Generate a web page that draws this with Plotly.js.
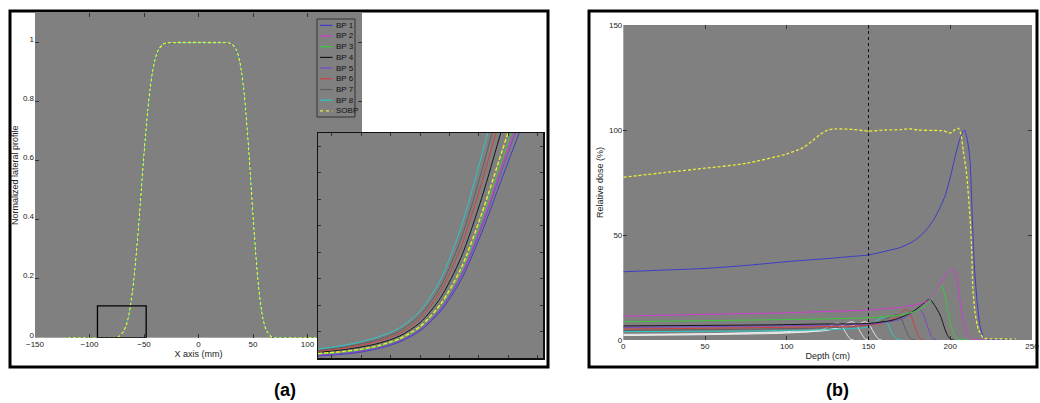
<!DOCTYPE html>
<html><head><meta charset="utf-8">
<script src="https://cdn.plot.ly/plotly-3.0.1.min.js"></script>
<style>html,body{margin:0;padding:0;background:#fff}#chart{width:1040px;height:403px}</style>
</head><body><div id="chart"></div>
<script>
// ---------- Panel (a): lateral profile ----------
const seriesNames = ['BP 1','BP 2','BP 3','BP 4','BP 5','BP 6','BP 7','BP 8','SOBP'];
const seriesColors = ['#3c3cc8','#d23cd2','#3cc83c','#161616','#7a48c8','#d04040','#5e5e5e','#2ac8c8','#ecec3a'];

const profileX = [-120,-80,-76.5,-72.5,-68.5,-66.5,-64.5,-62.5,-60.5,-58.5,-56.5,-54.5,-52.5,-50.5,-48.5,-46.5,-44.5,-42.5,-40.5,-38.5,-36.5,-32.5,-28.5,-20,0,20,27.5,31,34.5,36.25,38,39.75,41.5,43.25,45,46.75,48.5,50.25,52,53.75,55.5,57.25,59,60.75,62.5,66,69.5,74,108];
const profileY = [0,0,0.001,0.006,0.023,0.04,0.067,0.106,0.159,0.227,0.31,0.40,0.5,0.6,0.69,0.773,0.841,0.894,0.933,0.96,0.977,0.994,0.999,1,1,1,0.999,0.994,0.977,0.96,0.933,0.894,0.841,0.773,0.69,0.6,0.5,0.4,0.31,0.227,0.159,0.106,0.067,0.04,0.023,0.006,0.001,0,0];

// zoomed region marked on the main plot
const zoomBoxX = [-92.7, -48];
const zoomBoxY = [0, 0.108];

// inset (enlarged toe of the penumbra)
const insetRangeX = [-82, -60];
const insetRangeY = [0, 0.1];
const insetX = [-82,-80,-78,-76,-74,-72,-70,-68,-66,-64,-62];
const insetBP1 = [0.0009,0.0015,0.0025,0.0043,0.0072,0.0122,0.0209,0.0348,0.0557,0.0800,0.104];
const insetBP2 = [0.0014,0.0020,0.0031,0.0048,0.0078,0.0130,0.0223,0.0372,0.0595,0.0856,0.112];
const insetBP3 = [0.0017,0.0023,0.0034,0.0051,0.0081,0.0134,0.0230,0.0384,0.0614,0.0883,0.115];
const insetBP4 = [0.0025,0.0034,0.0047,0.0066,0.0098,0.0158,0.0269,0.0448,0.0710,0.1020,0.132];
const insetBP5 = [0.0012,0.0018,0.0029,0.0046,0.0076,0.0127,0.0218,0.0364,0.0582,0.0837,0.109];
const insetBP6 = [0.0030,0.0040,0.0055,0.0076,0.0110,0.0176,0.0298,0.0496,0.0780,0.1100,0.142];
const insetBP7 = [0.0034,0.0045,0.0061,0.0084,0.0120,0.0190,0.0319,0.0532,0.0830,0.1170,0.150];
const insetBP8 = [0.0040,0.0052,0.0070,0.0095,0.0135,0.0210,0.0350,0.0584,0.0900,0.1250,0.160];
const insetSOBP = [0.0020,0.0027,0.0038,0.0056,0.0087,0.0141,0.0240,0.0400,0.0640,0.0920,0.120];
const insetSeries = [insetBP1,insetBP2,insetBP3,insetBP4,insetBP5,insetBP6,insetBP7,insetBP8,insetSOBP];

// ---------- Panel (b): depth dose ----------
const depthBP1 = [0,25,50,75,100,125,140,150,160,170,177,182,186,190,194,197,200,202,204,206,207.5,208.7,210.5,211.5,212.2,213.2,214.2,215.2,216.7,218.3,220.3,222,225,240];
const doseBP1  = [32.5,33.3,34.1,35.5,37.3,38.8,39.8,40.5,42.2,44.2,46.8,49.8,53,57.5,63.5,69,77.5,84,90.5,96,98.8,100,95,90,84,65,44,30,16,6.3,1.6,0.6,0.2,0.1];
const depthBP2 = [0,50,100,150,170,180,186,190,194,198,200,201.6,203,204,205,206,207,208,209,210,211,212.5,214,225];
const doseBP2  = [11.4,12.2,13.0,14.3,15.6,17.0,18.6,21.5,27,31.7,33.2,33.8,33,30,25,18.5,13,9,6,3.5,1.8,0.5,0.1,0];
const depthBP3 = [0,60,120,150,170,180,186,190,192.5,194.8,196.5,198,200,201.5,203,205,215];
const doseBP3  = [8.7,9.3,10.0,10.6,12.0,14.0,17.0,21.5,24,26,22,16,8,4,1.6,0.3,0];
const depthBP4 = [0,90,120,150,165,172,178,183,187.3,190,193.8,196.9,198.5,200,202];
const doseBP4  = [6.7,7.2,7.6,7.9,9.5,11.5,14,17,19.4,17,11.9,4.8,2,0.5,0];
const depthBP5 = [0,100,150,165,170,175,178,180.6,183,185,187,188.5,190,192];
const doseBP5  = [6.0,6.8,7.6,9,10,12,14,15.1,13,9,4.5,1.8,0.4,0];
const depthBP6 = [0,120,150,160,167,170.5,173,175,177,179,180.5,182,184];
const doseBP6  = [5.2,6.3,7.0,8.5,11,13.5,14.6,13.5,9.5,5,2,0.5,0];
const depthBP7 = [0,100,140,155,162,167.3,169.5,171.5,173.5,175.5,177,179];
const doseBP7  = [4.6,5.4,6.3,8,10.5,12.2,11,7.5,3.5,1,0.2,0];
const depthBP8 = [0,120,150,154,158,160.5,162.5,164.5,166.5,168,170];
const doseBP8  = [4.0,4.8,6.3,8.5,10.6,9.5,6.5,3,1,0.2,0];
const depthW1 = [0,50,100,125,140,145,148,150.5,152.5,154.5,156,158];
const doseW1  = [2.7,3.0,4.0,5.0,6.8,8.0,8.7,7.5,4.5,2,0.5,0];
const depthW2 = [0,100,125,133,137,140,142.5,144.5,146.5,148,150];
const doseW2  = [2.4,3.6,4.6,6.5,8,8.7,7.5,4.5,2,0.5,0];
const depthW3 = [0,100,120,126,129,131,133.5,135.5,137.5,139,141];
const doseW3  = [2.1,3.3,4.5,6.5,7.7,8,7,4.2,1.8,0.4,0];
const depthSOBP = [0,25,50,75,100,110,115,120,125,130,140,150,160,170,175,180,190,196,199,201,203,205,206.5,208,210,212.2,213.2,213.8,215.2,217.3,220.4,225,230,235,240];
const doseSOBP  = [77.5,79.7,81.8,84.1,88.6,91.6,94.4,97.6,100,100.5,100.3,99.5,100,100.2,100.6,100,99.8,99.6,98.6,98.8,100.3,100.8,98,90,79,57,41,25,12.7,4.8,1,0.5,0.6,0.4,0.5];
const markerDepth = 150;
const whiteColor = '#ececec';

const FONT = 'Liberation Sans, Arial, sans-serif';
const traces = [];

// main lateral profile (all beamlets coincide at this scale)
seriesNames.forEach((n,i) => {
  traces.push({x: profileX, y: profileY, xaxis:'x', yaxis:'y', type:'scatter', mode:'lines', name:n,
    line:{color: seriesColors[i], width: i===8 ? 1.3 : 1, dash: i===8 ? '3px,2px' : 'solid', shape:'spline', smoothing:0.6}});
});
// inset
insetSeries.forEach((arr,i) => {
  traces.push({x: insetX, y: arr, xaxis:'x3', yaxis:'y3', type:'scatter', mode:'lines', name:seriesNames[i],
    line:{color: seriesColors[i], width: i===8 ? 1.4 : 1, dash: i===8 ? '4px,2px' : 'solid', shape:'spline', smoothing:0.8}});
});
// depth dose curves
const ddSeries = [
  [depthW3, doseW3, whiteColor], [depthW2, doseW2, whiteColor], [depthW1, doseW1, whiteColor],
  [depthBP8, doseBP8, seriesColors[7]], [depthBP7, doseBP7, seriesColors[6]], [depthBP6, doseBP6, seriesColors[5]],
  [depthBP5, doseBP5, seriesColors[4]], [depthBP4, doseBP4, seriesColors[3]], [depthBP3, doseBP3, seriesColors[2]],
  [depthBP2, doseBP2, seriesColors[1]], [depthBP1, doseBP1, seriesColors[0]]
];
ddSeries.forEach(s => {
  traces.push({x: s[0], y: s[1], xaxis:'x2', yaxis:'y2', type:'scatter', mode:'lines',
    line:{color: s[2], width:1, shape:'spline', smoothing:0.7}});
});
traces.push({x: depthSOBP, y: doseSOBP, xaxis:'x2', yaxis:'y2', type:'scatter', mode:'lines',
  line:{color: seriesColors[8], width:1.3, dash:'3px,2px', shape:'spline', smoothing:0.6}});

const tickFont = {family: FONT, size: 8, color: '#222'};
const baseAxis = {ticks:'inside', ticklen:4, tickwidth:1, tickcolor:'#333', mirror:'ticks',
  showgrid:false, zeroline:false, showline:false, tickfont: tickFont, automargin:false, fixedrange:true};

const W = 1040, H = 403;
const px = v => v / W, py = v => 1 - v / H;

// legend (drawn as paper shapes + annotations, MATLAB style)
const legBox = {x0: 317, x1: 355, y0: 19, y1: 117};
const legFirst = 25.3, legStep = 10.7;
const shapes = [
  {type:'rect', xref:'paper', yref:'paper', x0:px(10), x1:px(548), y0:py(367), y1:py(11), line:{color:'#000', width:3}, layer:'above'},
  {type:'rect', xref:'paper', yref:'paper', x0:px(589), x1:px(1037), y0:py(367), y1:py(11), line:{color:'#000', width:3}, layer:'above'},
  {type:'rect', xref:'x', yref:'y', x0:zoomBoxX[0], x1:zoomBoxX[1], y0:zoomBoxY[0], y1:zoomBoxY[1], line:{color:'#000', width:1.3}, layer:'above'},
  {type:'rect', xref:'x3', yref:'y3', x0:insetRangeX[0], x1:insetRangeX[1], y0:insetRangeY[0], y1:insetRangeY[1], fillcolor:'#808080', line:{width:0}, layer:'below'},
  {type:'line', xref:'x2', yref:'y2', x0:markerDepth, x1:markerDepth, y0:0, y1:150, line:{color:'#111', width:1, dash:'dot'}, layer:'above'},
  {type:'rect', xref:'paper', yref:'paper', x0:px(legBox.x0), x1:px(legBox.x1), y0:py(legBox.y1), y1:py(legBox.y0), fillcolor:'#808080', line:{color:'#333', width:1}, layer:'above'}
];
const annotations = [];
seriesNames.forEach((n,i) => {
  const yc = legFirst + i*legStep;
  shapes.push({type:'line', xref:'paper', yref:'paper', x0:px(320), x1:px(332.5), y0:py(yc), y1:py(yc),
    line:{color: seriesColors[i], width: 1.2, dash: i===8 ? 'dot' : 'solid'}, layer:'above'});
  annotations.push({xref:'paper', yref:'paper', x:px(334), y:py(yc), xanchor:'left', yanchor:'middle', showarrow:false,
    text:n, font:{family:'Liberation Sans Narrow, Liberation Sans, Arial, sans-serif', size:8, color:'#111'}});
});
annotations.push({xref:'paper', yref:'paper', x:px(285), y:py(390), xanchor:'center', yanchor:'middle', showarrow:false,
  text:'<b>(a)</b>', font:{family: FONT, size:18, color:'#000'}});
annotations.push({xref:'paper', yref:'paper', x:px(837), y:py(390), xanchor:'center', yanchor:'middle', showarrow:false,
  text:'<b>(b)</b>', font:{family: FONT, size:18, color:'#000'}});

const layout = {
  width: W, height: H,
  margin: {l:0, r:0, t:0, b:0, pad:0},
  paper_bgcolor: '#ffffff',
  plot_bgcolor: '#808080',
  showlegend: false,
  xaxis: Object.assign({}, baseAxis, {domain:[px(35), px(362)], range:[-150,150], anchor:'y',
    tickvals:[-150,-100,-50,0,50,100],
    title:{text:'X axis (mm)', font:{family:FONT, size:9, color:'#222'}, standoff:2}}),
  yaxis: Object.assign({}, baseAxis, {domain:[py(337.7), py(13)], range:[0,1.1], anchor:'x',
    tickvals:[0,0.2,0.4,0.6,0.8,1], ticklabelshift:-3,
    title:{text:'Normalized lateral profile', font:{family:FONT, size:9, color:'#222'}, standoff:2}}),
  xaxis2: Object.assign({}, baseAxis, {domain:[px(623.3), px(1032)], range:[0,250], anchor:'y2', dtick:50,
    title:{text:'Depth (cm)', font:{family:FONT, size:9, color:'#222'}, standoff:2}}),
  yaxis2: Object.assign({}, baseAxis, {domain:[py(340), py(25)], range:[0,150], anchor:'x2', dtick:50,
    title:{text:'Relative dose (%)', font:{family:FONT, size:9, color:'#222'}, standoff:3}}),
  xaxis3: Object.assign({}, baseAxis, {domain:[px(318), px(543)], range:insetRangeX, anchor:'y3',
    showticklabels:false, tick0:-80.66, dtick:2.88, showline:true, linecolor:'#111', linewidth:1.5, ticklen:3}),
  yaxis3: Object.assign({}, baseAxis, {domain:[py(358), py(133)], range:insetRangeY, anchor:'x3',
    showticklabels:false, tick0:0.0116, dtick:0.0118, showline:true, linecolor:'#111', linewidth:1.5, ticklen:3}),
  shapes: shapes,
  annotations: annotations
};

Plotly.newPlot('chart', traces, layout, {staticPlot:true, displayModeBar:false});
</script>
</body></html>
